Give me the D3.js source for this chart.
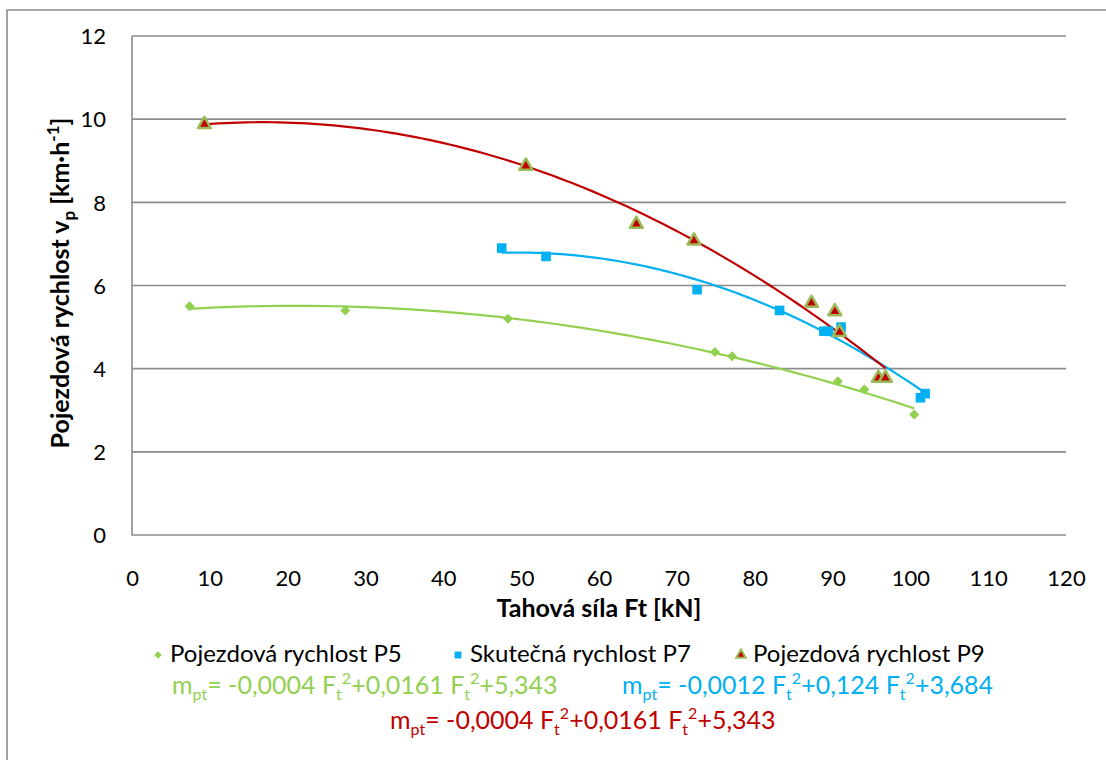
<!DOCTYPE html>
<html><head><meta charset="utf-8">
<script src="https://cdn.jsdelivr.net/npm/d3@7"></script>
<style>body{margin:0;background:#fff;} text{font-family:Lato, "Open Sans", sans-serif;}</style>
</head><body>
<svg id="c" width="1106" height="760"></svg>
<script>
const p5X = [7.4, 27.4, 48.3, 74.9, 77.1, 90.7, 94.1, 100.5];
const p5Y = [5.5, 5.4, 5.2, 4.4, 4.3, 3.7, 3.5, 2.9];
const p7X = [47.5, 53.2, 72.6, 83.2, 88.9, 89.5, 91.1, 101.3, 101.9];
const p7Y = [6.9, 6.7, 5.9, 5.4, 4.9, 4.9, 5.0, 3.3, 3.4];
const p9X = [9.3, 50.6, 64.8, 72.2, 87.3, 90.3, 90.9, 95.9, 96.8];
const p9Y = [9.9, 8.9, 7.5, 7.1, 5.6, 5.4, 4.9, 3.8, 3.8];
const xTicks = [0,10,20,30,40,50,60,70,80,90,100,110,120];
const yTicks = [0,2,4,6,8,10,12];
const seriesNames = ["Pojezdová rychlost P5","Skutečná rychlost P7","Pojezdová rychlost P9"];
const eqGreen = ["-0,0004", "+0,0161", "+5,343"];
const eqBlue = ["-0,0012", "+0,124", "+3,684"];
const eqRed = ["-0,0004", "+0,0161", "+5,343"];
const xTitle = "Tahová síla Ft [kN]";

const GREEN="#92D050", BLUE="#00B0F0", RED="#C00000", TRI_EDGE="#9BBB59", GRID="#8c8c8c";
const svg = d3.select("#c");
const L=132, R=1066, T=36, B=535;
const x = d3.scaleLinear().domain([0,120]).range([L,R]);
const y = d3.scaleLinear().domain([0,12]).range([B,T]);

// outer frame
svg.append("path").attr("d","M7,770 V10 H1120").attr("fill","none").attr("stroke",GRID).attr("stroke-width",1.6);

// gridlines
svg.append("g").selectAll("line").data(yTicks.filter(d=>d>0)).join("line")
  .attr("x1",L).attr("x2",R).attr("y1",d=>y(d)).attr("y2",d=>y(d))
  .attr("stroke",GRID).attr("stroke-width",1.6);
// axes lines
svg.append("path").attr("d",`M${L},${T} V${B} H${R}`).attr("fill","none").attr("stroke",GRID).attr("stroke-width",1.6);

// tick labels
const yAx = d3.axisLeft(y).tickValues(yTicks).tickSize(0).tickPadding(0);
const yg = svg.append("g").attr("transform",`translate(${L-26},0)`).call(yAx);
yg.select(".domain").remove();
yg.selectAll("text").attr("font-size",22).attr("fill","#000").attr("font-family","Lato").attr("dy","0.35em");
const xAx = d3.axisBottom(x).tickValues(xTicks).tickSize(0).tickPadding(0);
const xg = svg.append("g").attr("transform",`translate(0,${B+43})`).call(xAx);
xg.select(".domain").remove();
xg.selectAll("text").attr("font-size",22).attr("fill","#000").attr("font-family","Lato").attr("dy","0.35em");

// axis titles
svg.append("text").attr("x",599).attr("y",617).attr("text-anchor","middle")
  .attr("font-size",25).attr("font-weight","bold").text(xTitle);
const yt = svg.append("text").attr("transform","translate(69,283) rotate(-90)").attr("text-anchor","middle")
  .attr("font-size",25).attr("font-weight","bold");
yt.append("tspan").text("Pojezdová rychlost v");
yt.append("tspan").attr("font-size",17).attr("dy",6).text("p");
yt.append("tspan").attr("dy",-6).text(" [km·h");
yt.append("tspan").attr("font-size",17).attr("dy",-10).text("-1");
yt.append("tspan").attr("dy",10).text("]");

// quadratic least squares fit
function fit(xs, ys){
  let S=[0,0,0,0,0], Ty=[0,0,0];
  xs.forEach((xv,i)=>{ for(let k=0;k<5;k++) S[k]+=Math.pow(xv,k); for(let k=0;k<3;k++) Ty[k]+=ys[i]*Math.pow(xv,k); });
  const M=[[S[0],S[1],S[2],Ty[0]],[S[1],S[2],S[3],Ty[1]],[S[2],S[3],S[4],Ty[2]]];
  for(let i=0;i<3;i++){ for(let j=i+1;j<3;j++){ const f=M[j][i]/M[i][i]; for(let k=i;k<4;k++) M[j][k]-=f*M[i][k]; } }
  const c=[0,0,0];
  for(let i=2;i>=0;i--){ let s=M[i][3]; for(let k=i+1;k<3;k++) s-=M[i][k]*c[k]; c[i]=s/M[i][i]; }
  return t=>c[0]+c[1]*t+c[2]*t*t;
}
function trend(xs, ys, color){
  const f = fit(xs, ys);
  const x0=d3.min(xs), x1=d3.max(xs);
  const pts = d3.range(0,101).map(i=>{const t=x0+(x1-x0)*i/100; return [t,f(t)];});
  svg.append("path").attr("d", d3.line().x(d=>x(d[0])).y(d=>y(d[1]))(pts))
    .attr("fill","none").attr("stroke",color).attr("stroke-width",2.2);
}
trend(p5X,p5Y,GREEN);
trend(p7X,p7Y,BLUE);
trend(p9X,p9Y,RED);

// markers
const diamond = d3.symbol().type(d3.symbolDiamond2).size(64);
const square = d3.symbol().type(d3.symbolSquare2).size(118);
const tri = d3.symbol().type(d3.symbolTriangle).size(72);
svg.append("g").selectAll("path").data(p5X.map((v,i)=>[v,p5Y[i]])).join("path")
  .attr("d",diamond).attr("transform",d=>`translate(${x(d[0])},${y(d[1])})`).attr("fill",GREEN);
svg.append("g").selectAll("path").data(p7X.map((v,i)=>[v,p7Y[i]])).join("path")
  .attr("d",square).attr("transform",d=>`translate(${x(d[0])},${y(d[1])})`).attr("fill",BLUE);
svg.append("g").selectAll("path").data(p9X.map((v,i)=>[v,p9Y[i]])).join("path")
  .attr("d",tri).attr("transform",d=>`translate(${x(d[0])},${y(d[1])+1})`).attr("fill",RED)
  .attr("stroke",TRI_EDGE).attr("stroke-width",2.5).attr("stroke-linejoin","round");

// legend
const leg = [{mx:158, tx:170, sym:d3.symbol().type(d3.symbolDiamond2).size(36), fill:GREEN},
             {mx:458, tx:470, sym:d3.symbol().type(d3.symbolSquare2).size(60), fill:BLUE},
             {mx:741, tx:753, sym:d3.symbol().type(d3.symbolTriangle).size(40), fill:RED, stroke:TRI_EDGE}];
leg.forEach((l,i)=>{
  svg.append("path").attr("d",l.sym).attr("transform",`translate(${l.mx},655)`).attr("fill",l.fill)
    .attr("stroke",l.stroke||"none").attr("stroke-width",2);
  svg.append("text").attr("x",l.tx).attr("y",662).attr("font-size",24).attr("fill","#000").text(seriesNames[i]);
});

// equations
function eq(xp, yp, parts, color){
  const t = svg.append("text").attr("x",xp).attr("y",yp).attr("font-size",25).attr("fill",color);
  t.append("tspan").text("m");
  t.append("tspan").attr("font-size",16).attr("dy",6).text("pt");
  t.append("tspan").attr("dy",-6).text("= " + parts[0] + " F");
  t.append("tspan").attr("font-size",16).attr("dy",6).text("t");
  t.append("tspan").attr("font-size",16).attr("dy",-16).text("2");
  t.append("tspan").attr("dy",10).text(parts[1] + " F");
  t.append("tspan").attr("font-size",16).attr("dy",6).text("t");
  t.append("tspan").attr("font-size",16).attr("dy",-16).text("2");
  t.append("tspan").attr("dy",10).text(parts[2]);
}
eq(172, 694, eqGreen, GREEN);
eq(622, 694, eqBlue, BLUE);
eq(390, 729, eqRed, RED);
</script>
</body></html>
